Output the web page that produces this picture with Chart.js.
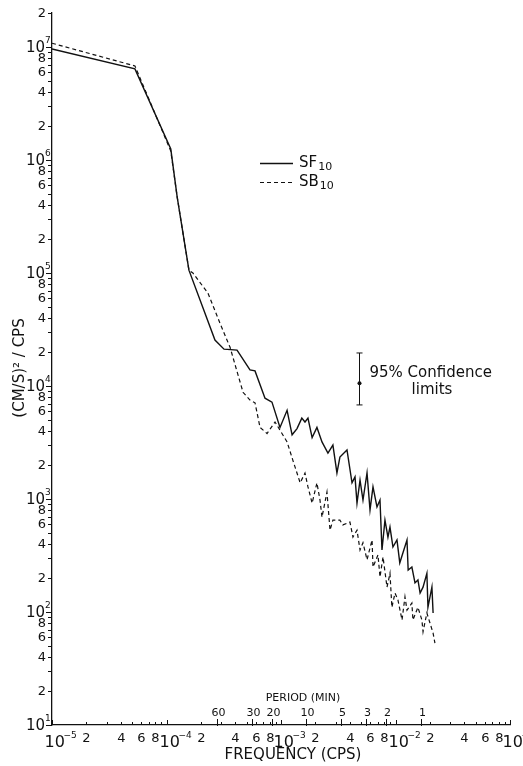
<!DOCTYPE html>
<html>
<head>
<meta charset="utf-8">
<script src="https://cdn.jsdelivr.net/npm/chart.js@4.4.0/dist/chart.umd.min.js"></script>
<style>
html, body { margin: 0; padding: 0; background: #fff; }
#wrap { width: 523px; height: 766px; position: relative; }
</style>
</head>
<body>
<div id="wrap"><canvas id="spec"></canvas></div>
<script>
// SF10 (solid) spectrum
const sfFreq = [1e-5, 5.3e-5, 1.09e-4, 1.24e-4, 1.57e-4, 2.65e-4, 3.18e-4, 4.13e-4, 5.36e-4, 5.93e-4,
    7.25e-4, 8.34e-4, 9.8e-4, 1.13e-3, 1.25e-3, 1.38e-3, 1.52e-3, 1.62e-3, 1.72e-3, 1.87e-3,
    2.06e-3, 2.28e-3, 2.57e-3, 2.84e-3, 3.08e-3, 3.27e-3, 3.77e-3, 4.17e-3, 4.43e-3, 4.61e-3,
    4.90e-3, 5.2e-3, 5.64e-3, 5.99e-3, 6.36e-3, 6.89e-3, 7.32e-3, 7.62e-3, 8.09e-3, 8.59e-3,
    8.95e-3, 9.5e-3, 1.03e-2, 1.09e-2, 1.16e-2, 1.26e-2, 1.29e-2, 1.39e-2, 1.48e-2, 1.57e-2,
    1.64e-2, 1.74e-2, 1.88e-2, 1.92e-2, 2.08e-2, 2.13e-2];
const sfVal = [9.6e6, 6.4e6, 1.25e6, 4.7e5, 1.06e5, 2.55e4, 2.12e4, 2.08e4, 1.39e4, 1.36e4,
    7.8e3, 7.2e3, 4.3e3, 6.1e3, 3.7e3, 4.2e3, 5.2e3, 4.8e3, 5.2e3, 3.5e3,
    4.3e3, 3.2e3, 2.55e3, 3.0e3, 1.7e3, 2.35e3, 2.72e3, 1.39e3, 1.57e3, 920,
    1.47e3, 980, 1.7e3, 800, 1.28e3, 850, 980, 354, 650, 460,
    565, 376, 434, 272, 333, 434, 235, 250, 181, 192,
    147, 166, 220, 110, 166, 98];

// SB10 (dashed) spectrum
const sbFreq = [1e-5, 5.3e-5, 1.09e-4, 1.24e-4, 1.57e-4, 1.70e-4, 2.30e-4, 2.93e-4, 3.59e-4, 4.66e-4,
    5.36e-4, 5.93e-4, 6.56e-4, 7.55e-4, 8.87e-4, 1.02e-3, 1.13e-3, 1.27e-3, 1.47e-3, 1.62e-3,
    1.72e-3, 1.87e-3, 2.06e-3, 2.19e-3, 2.28e-3, 2.52e-3, 2.68e-3, 2.84e-3, 3.27e-3, 3.47e-3,
    4.0e-3, 4.25e-3, 4.61e-3, 4.90e-3, 5.2e-3, 5.64e-3, 6.24e-3, 6.36e-3, 7.03e-3, 7.32e-3,
    7.78e-3, 8.43e-3, 8.95e-3, 9.3e-3, 9.9e-3, 1.05e-2, 1.14e-2, 1.21e-2, 1.26e-2, 1.39e-2,
    1.42e-2, 1.57e-2, 1.70e-2, 1.74e-2, 1.88e-2, 2.0e-2, 2.13e-2, 2.21e-2];
const sbVal = [1.08e7, 6.8e6, 1.2e6, 4.7e5, 1.06e5, 1.0e5, 6.65e4, 3.6e4, 2.2e4, 8.8e3,
    7.5e3, 7.1e3, 4.3e3, 3.8e3, 4.8e3, 3.8e3, 3.2e3, 2.2e3, 1.39e3, 1.7e3,
    1.28e3, 920, 1.39e3, 980, 690, 1.15e3, 530, 650, 650, 590,
    625, 460, 530, 354, 410, 290, 434, 250, 320, 204,
    307, 166, 220, 110, 147, 128, 85, 136, 104, 120,
    85, 110, 85, 67, 98, 80, 65, 53];

// top axis: period in minutes
const periodMin = [60, 30, 20, 10, 5, 3, 2, 1];
const minorLabels = [2, 4, 6, 8];
// 95% confidence bar (freq, lower, centre, upper)
const confBar = { f: 4.8e-3, lo: 6.8e3, mid: 1.06e4, hi: 1.96e4 };

const FONT = '"DejaVu Sans", sans-serif';

function toPoints(xs, ys) {
    return xs.map((x, i) => ({ x: x, y: ys[i] }));
}

// 텍스트 + 아래첨자
function textSub(ctx, main, sub, x, y) {
    ctx.font = '15px ' + FONT;
    ctx.textAlign = 'left';
    ctx.textBaseline = 'middle';
    ctx.fillText(main, x, y);
    const w = ctx.measureText(main).width;
    ctx.font = '11px ' + FONT;
    ctx.fillText(sub, x + w + 1, y + 4);
}

// 축 라벨, 눈금, 범례를 직접 그림
const paperAxes = {
    id: 'paperAxes',
    afterDraw(chart) {
        const ctx = chart.ctx;
        const xs = chart.scales.x;
        const ys = chart.scales.y;
        const area = chart.chartArea;
        ctx.save();
        ctx.fillStyle = '#111';
        ctx.strokeStyle = '#111';
        ctx.lineWidth = 1;

        // y axis ticks + labels
        for (let d = 1; d <= 7; d++) {
            for (let m = 1; m <= 9; m++) {
                const v = m * Math.pow(10, d);
                if (v < 10 || v > 2e7) continue;
                const py = Math.round(ys.getPixelForValue(v)) + 0.5;
                ctx.beginPath();
                ctx.moveTo(area.left - (m === 1 ? 6 : 4), py);
                ctx.lineTo(area.left, py);
                ctx.stroke();
                if (m === 1) {
                    ctx.font = '15px ' + FONT;
                    ctx.textAlign = 'right';
                    ctx.textBaseline = 'middle';
                    ctx.fillText('10', area.left - 7, py + 1);
                    ctx.font = '9px ' + FONT;
                    ctx.textAlign = 'left';
                    ctx.fillText(String(d), area.left - 7, py - 7);
                } else if (minorLabels.includes(m)) {
                    ctx.font = '13px ' + FONT;
                    ctx.textAlign = 'right';
                    ctx.textBaseline = 'middle';
                    ctx.fillText(String(m), area.left - 6, py);
                }
            }
        }

        // x axis ticks + labels
        for (let d = -5; d <= -1; d++) {
            for (let m = 1; m <= 9; m++) {
                const v = m * Math.pow(10, d);
                if (v > 0.1 + 1e-12) continue;
                const px = Math.round(xs.getPixelForValue(v)) + 0.5;
                ctx.beginPath();
                ctx.moveTo(px, area.bottom);
                ctx.lineTo(px, area.bottom - (m === 1 ? 5 : 3));
                ctx.stroke();
                if (m === 1) {
                    ctx.font = '16px ' + FONT;
                    ctx.textAlign = 'left';
                    ctx.textBaseline = 'top';
                    ctx.fillText('10', px - 8, area.bottom + 10);
                    ctx.font = '9px ' + FONT;
                    ctx.fillText('\u2212' + String(-d), px + 11, area.bottom + 6);
                } else if (minorLabels.includes(m)) {
                    ctx.font = '13px ' + FONT;
                    ctx.textAlign = 'center';
                    ctx.textBaseline = 'top';
                    ctx.fillText(String(m), px, area.bottom + 7);
                }
            }
        }

        // period ticks (upper labels)
        ctx.font = '11px ' + FONT;
        ctx.textAlign = 'center';
        ctx.textBaseline = 'alphabetic';
        periodMin.forEach(p => {
            const px = Math.round(xs.getPixelForValue(1 / (60 * p))) + 0.5;
            ctx.beginPath();
            ctx.moveTo(px, area.bottom + 1);
            ctx.lineTo(px, area.bottom - 6);
            ctx.stroke();
            ctx.fillText(String(p), px + 1, area.bottom - 9);
        });
        ctx.fillText('PERIOD (MIN)', 303, area.bottom - 24);

        // axis titles
        ctx.font = '15px ' + FONT;
        ctx.textBaseline = 'middle';
        ctx.fillText('FREQUENCY (CPS)', 293, 755);
        ctx.save();
        ctx.translate(20, 368);
        ctx.rotate(-Math.PI / 2);
        ctx.fillText('(CM/S)\u00B2 / CPS', 0, 0);
        ctx.restore();

        // legend
        ctx.lineWidth = 1.4;
        ctx.beginPath();
        ctx.moveTo(260, 163.5);
        ctx.lineTo(293, 163.5);
        ctx.stroke();
        ctx.lineWidth = 1.2;
        ctx.setLineDash([4, 3]);
        ctx.beginPath();
        ctx.moveTo(260, 182.5);
        ctx.lineTo(293, 182.5);
        ctx.stroke();
        ctx.setLineDash([]);
        textSub(ctx, 'SF', '10', 299, 163);
        textSub(ctx, 'SB', '10', 299, 182);

        // 95% confidence bar
        const cx = Math.round(xs.getPixelForValue(confBar.f)) + 0.5;
        const cTop = ys.getPixelForValue(confBar.hi);
        const cBot = ys.getPixelForValue(confBar.lo);
        const cMid = ys.getPixelForValue(confBar.mid);
        ctx.lineWidth = 1;
        ctx.beginPath();
        ctx.moveTo(cx, cTop); ctx.lineTo(cx, cBot);
        ctx.moveTo(cx - 3, cTop); ctx.lineTo(cx + 3, cTop);
        ctx.moveTo(cx - 3, cBot); ctx.lineTo(cx + 3, cBot);
        ctx.stroke();
        ctx.beginPath();
        ctx.arc(cx, cMid, 2, 0, Math.PI * 2);
        ctx.fill();
        ctx.font = '15px ' + FONT;
        ctx.textAlign = 'left';
        ctx.textBaseline = 'middle';
        ctx.fillText('95% Confidence', cx + 10, 373);
        ctx.textAlign = 'center';
        ctx.fillText('limits', 432, 390);

        ctx.restore();
    }
};

new Chart(document.getElementById('spec').getContext('2d'), {
    type: 'line',
    data: {
        datasets: [{
            label: 'SF10',
            data: toPoints(sfFreq, sfVal),
            borderColor: '#111',
            borderWidth: 1.4,
            pointRadius: 0,
            tension: 0
        }, {
            label: 'SB10',
            data: toPoints(sbFreq, sbVal),
            borderColor: '#111',
            borderWidth: 1.2,
            borderDash: [4, 3],
            pointRadius: 0,
            tension: 0
        }]
    },
    options: {
        responsive: true,
        maintainAspectRatio: false,
        animation: false,
        layout: { padding: { top: 13, right: 13, left: 0, bottom: 0 } },
        plugins: { legend: { display: false }, tooltip: { enabled: false } },
        scales: {
            x: {
                type: 'logarithmic',
                min: 1e-5,
                max: 1e-1,
                ticks: { display: false },
                grid: { display: false },
                border: { display: true, color: '#111', width: 1.3 },
                afterFit: s => { s.height = 41; }
            },
            y: {
                type: 'logarithmic',
                min: 10,
                max: 2e7,
                ticks: { display: false },
                grid: { display: false },
                border: { display: true, color: '#111', width: 1.3 },
                afterFit: s => { s.width = 52; }
            }
        }
    },
    plugins: [paperAxes]
});
</script>
</body>
</html>
